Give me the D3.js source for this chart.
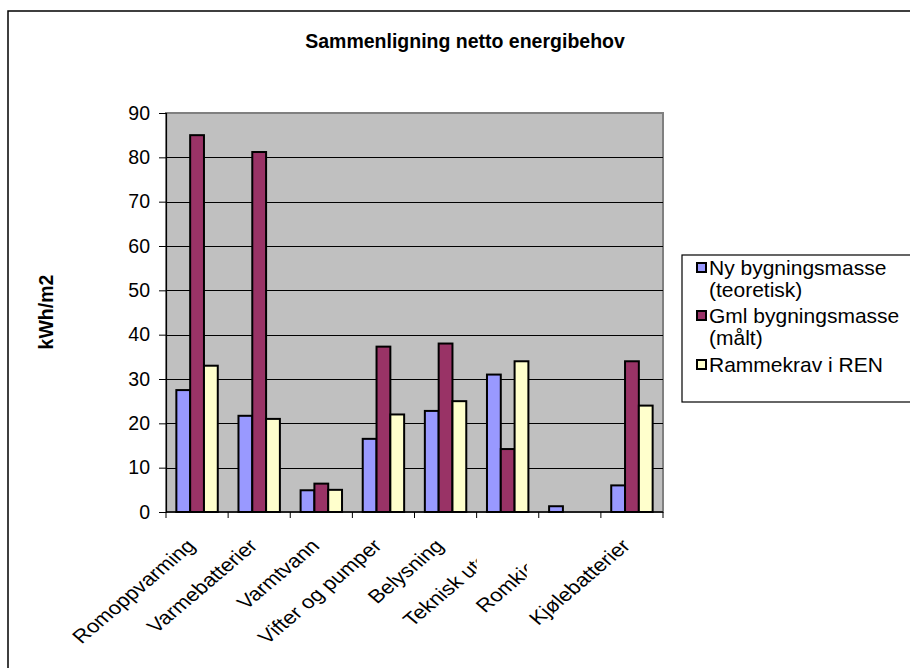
<!DOCTYPE html>
<html>
<head>
<meta charset="utf-8">
<script src="https://cdn.jsdelivr.net/npm/d3@7"></script>
<style>
  html, body { margin: 0; padding: 0; background: #fff; }
  svg { display: block; font-family: "Liberation Sans", Arial, sans-serif; }
</style>
</head>
<body>
<svg id="chart" width="910" height="668"></svg>
<script>
// Net energy demand per post, kWh/m2
const categories = ["Romoppvarming", "Varmebatterier", "Varmtvann", "Vifter og pumper",
                    "Belysning", "Teknisk utstyr", "Romkjøling", "Kjølebatterier"];
const seriesNames = ["Ny bygningsmasse (teoretisk)", "Gml bygningsmasse (målt)", "Rammekrav i REN"];
const nyValues   = [27.5, 21.7, 4.9, 16.5, 22.8, 31.0, 1.3, 6.0];
const gmlValues  = [85.0, 81.2, 6.4, 37.3, 38.0, 14.2, null, 34.0];
const rammeValues = [33.0, 21.0, 5.0, 22.0, 25.0, 34.0, null, 24.0];
const yTicks = [0, 10, 20, 30, 40, 50, 60, 70, 80, 90];
const legendLines = [["Ny bygningsmasse", "(teoretisk)"], ["Gml bygningsmasse", "(målt)"], ["Rammekrav i REN"]];
const titleText = "Sammenligning netto energibehov";
const yAxisTitle = "kWh/m2";

const colors = ["#9999ff", "#993366", "#ffffcc"];
const series = [nyValues, gmlValues, rammeValues];

const svg = d3.select("#chart");
const plot = { left: 166, right: 663, top: 113, bottom: 512 };

// outer chart frame (runs off the right and bottom edges)
svg.append("rect")
  .attr("x", 8).attr("y", 11).attr("width", 1000).attr("height", 1000)
  .attr("fill", "#fff").attr("stroke", "#000").attr("stroke-width", 1.5);

svg.append("text")
  .attr("x", 465).attr("y", 48)
  .attr("text-anchor", "middle")
  .attr("font-weight", "bold").attr("font-size", 19.5)
  .text(titleText);

const x = d3.scaleBand().domain(categories).range([plot.left, plot.right]);
const y = d3.scaleLinear().domain([0, 90]).range([plot.bottom, plot.top]);
// three bars per group, gap width 150% of a bar
const inner = d3.scaleBand().domain(d3.range(series.length))
  .range([0, x.bandwidth()]).paddingInner(0).paddingOuter(0.75);

// plot area
svg.append("rect")
  .attr("x", plot.left).attr("y", plot.top)
  .attr("width", plot.right - plot.left).attr("height", plot.bottom - plot.top)
  .attr("fill", "#c0c0c0").attr("stroke", "#808080").attr("stroke-width", 2);

// horizontal gridlines
svg.append("g").selectAll("line")
  .data(yTicks.filter(t => t > 0 && t < 90))
  .join("line")
  .attr("x1", plot.left).attr("x2", plot.right)
  .attr("y1", d => Math.round(y(d)) + 0.5).attr("y2", d => Math.round(y(d)) + 0.5)
  .attr("stroke", "#000").attr("stroke-width", 1);

// bars
const groups = svg.append("g").selectAll("g")
  .data(categories)
  .join("g")
  .attr("transform", d => `translate(${x(d)},0)`);

groups.selectAll("rect")
  .data((d, i) => series.map((s, k) => ({ k, v: s[i] })).filter(e => e.v != null))
  .join("rect")
  .attr("x", d => inner(d.k))
  .attr("width", inner.bandwidth())
  .attr("y", d => y(d.v))
  .attr("height", d => y(0) - y(d.v))
  .attr("fill", d => colors[d.k])
  .attr("stroke", "#000").attr("stroke-width", 2);

// y axis
const yAxis = svg.append("g")
  .attr("transform", `translate(${plot.left},0)`)
  .call(d3.axisLeft(y).tickValues(yTicks).tickSize(7).tickPadding(9).tickFormat(d3.format("d")));
yAxis.select(".domain").attr("stroke", "#000").attr("stroke-width", 1.2);
yAxis.selectAll(".tick line").attr("stroke", "#000");
yAxis.selectAll(".tick text")
  .attr("font-size", 19.5).attr("font-family", "Liberation Sans, Arial, sans-serif").attr("fill", "#000");

// x axis: ticks at category boundaries
const bx = svg.append("g");
bx.append("line")
  .attr("x1", plot.left).attr("x2", plot.right)
  .attr("y1", plot.bottom).attr("y2", plot.bottom)
  .attr("stroke", "#000").attr("stroke-width", 1.5);
bx.selectAll("line.tk")
  .data(categories.map(c => x(c)).concat([plot.right]))
  .join("line").attr("class", "tk")
  .attr("x1", d => d).attr("x2", d => d)
  .attr("y1", plot.bottom).attr("y2", plot.bottom + 6)
  .attr("stroke", "#000").attr("stroke-width", 1);

// long labels are cut off where their slot ends
const labelCut = {
  "Teknisk utstyr": { clip: x("Teknisk utstyr"), dx: 0 },
  "Romkjøling":     { clip: x("Romkjøling") - 12, dx: -6 }
};
const defs = svg.append("defs");
const cutIds = Object.keys(labelCut);
cutIds.forEach((name, i) => {
  defs.append("clipPath").attr("id", "cut" + i)
    .append("rect").attr("x", 0).attr("y", 0).attr("width", labelCut[name].clip).attr("height", 668);
});

// slanted category labels, slightly widened horizontally
bx.selectAll("g.lbl")
  .data(categories)
  .join("g").attr("class", "lbl")
  .attr("clip-path", d => cutIds.includes(d) ? `url(#cut${cutIds.indexOf(d)})` : null)
  .append("text")
  .attr("transform", d => {
    const nudge = labelCut[d] ? labelCut[d].dx : 0;
    return `translate(${x(d) + x.bandwidth() / 2 - 0.5 + nudge},547) scale(1.18,1) rotate(-45)`;
  })
  .attr("text-anchor", "end")
  .attr("font-size", 18.8)
  .text(d => d);

// y axis title
svg.append("text")
  .attr("transform", "translate(53,312) rotate(-90)")
  .attr("text-anchor", "middle")
  .attr("font-weight", "bold").attr("font-size", 19.5)
  .text(yAxisTitle);

// legend
const lg = svg.append("g");
lg.append("rect")
  .attr("x", 682).attr("y", 255).attr("width", 300).attr("height", 147)
  .attr("fill", "#fff").attr("stroke", "#000").attr("stroke-width", 1.2);
const itemBase = [275, 323, 372];
seriesNames.forEach((name, i) => {
  lg.append("rect")
    .attr("x", 697).attr("y", itemBase[i] - 12).attr("width", 9).attr("height", 9)
    .attr("fill", colors[i]).attr("stroke", "#000").attr("stroke-width", 2);
  const t = lg.append("text").attr("x", 709).attr("y", itemBase[i]).attr("font-size", 21);
  legendLines[i].forEach((ln, j) => {
    t.append("tspan").attr("x", 709).attr("dy", j === 0 ? 0 : 22).text(ln);
  });
});
</script>
</body>
</html>
